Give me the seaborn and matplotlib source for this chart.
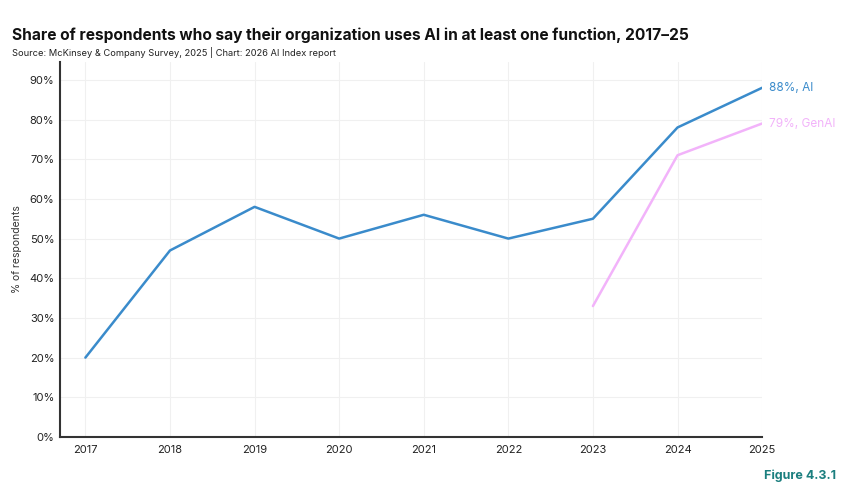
import matplotlib
matplotlib.use("Agg")
import matplotlib.pyplot as plt
import seaborn as sns
import pandas as pd
from matplotlib.ticker import FuncFormatter

years_ai = [2017, 2018, 2019, 2020, 2021, 2022, 2023, 2024, 2025]
ai_values = [20, 47, 58, 50, 56, 50, 55, 78, 88]
years_genai = [2023, 2024, 2025]
genai_values = [33, 71, 79]

ai_color = "#3a8bcb"
genai_color = "#f2b3fa"

sns.set_theme(style="white")
plt.rcParams['font.family'] = ['Inter', 'DejaVu Sans']

fig = plt.figure(figsize=(8.5, 4.98), dpi=100)
ax = fig.add_axes([0.0706, 0.1225, 0.826, 0.753])

df_ai = pd.DataFrame({"year": years_ai, "value": ai_values})
df_gen = pd.DataFrame({"year": years_genai, "value": genai_values})
sns.lineplot(data=df_ai, x="year", y="value", ax=ax, color=ai_color, linewidth=1.8)
sns.lineplot(data=df_gen, x="year", y="value", ax=ax, color=genai_color, linewidth=1.8)

ax.set_xlim(2016.7, 2025)
ax.set_ylim(0, 94.5)
ax.set_xticks(years_ai)
ax.set_yticks(range(0, 100, 10))
ax.yaxis.set_major_formatter(FuncFormatter(lambda v, p: f"{int(v)}%"))
ax.grid(True, color="#f0f0f0", linewidth=0.8)
ax.tick_params(axis="both", labelsize=8, colors="#222222", length=0)
ax.tick_params(axis="x", pad=6)
ax.tick_params(axis="y", pad=4)
for s in ["top", "right"]:
    ax.spines[s].set_visible(False)
for s in ["left", "bottom"]:
    ax.spines[s].set_color("#333333")
    ax.spines[s].set_linewidth(1.5)
ax.set_xlabel("")
ax.set_ylabel("% of respondents", fontsize=7.5, color="#333333", labelpad=5)

ax.text(years_ai[-1] + 0.08, ai_values[-1], f"{ai_values[-1]}%, AI", color=ai_color,
        fontsize=8.5, va="center", ha="left", clip_on=False)
ax.text(years_genai[-1] + 0.08, genai_values[-1], f"{genai_values[-1]}%, GenAI", color=genai_color,
        fontsize=8.5, va="center", ha="left", clip_on=False)

fig.text(12/850, 1-35/498, "Share of respondents who say their organization uses AI in at least one function, 2017–25",
         fontsize=11.2, fontweight="bold", color="#111111", va="center", ha="left")
fig.text(12/850, 1-52/498, "Source: McKinsey & Company Survey, 2025 | Chart: 2026 AI Index report",
         fontsize=6.7, color="#222222", va="center", ha="left")
fig.text(836/850, 1-476/498, "Figure 4.3.1", fontsize=9, fontweight="bold", color="#1b7f7f",
         va="center", ha="right")

fig.savefig("out.png", dpi=100)
